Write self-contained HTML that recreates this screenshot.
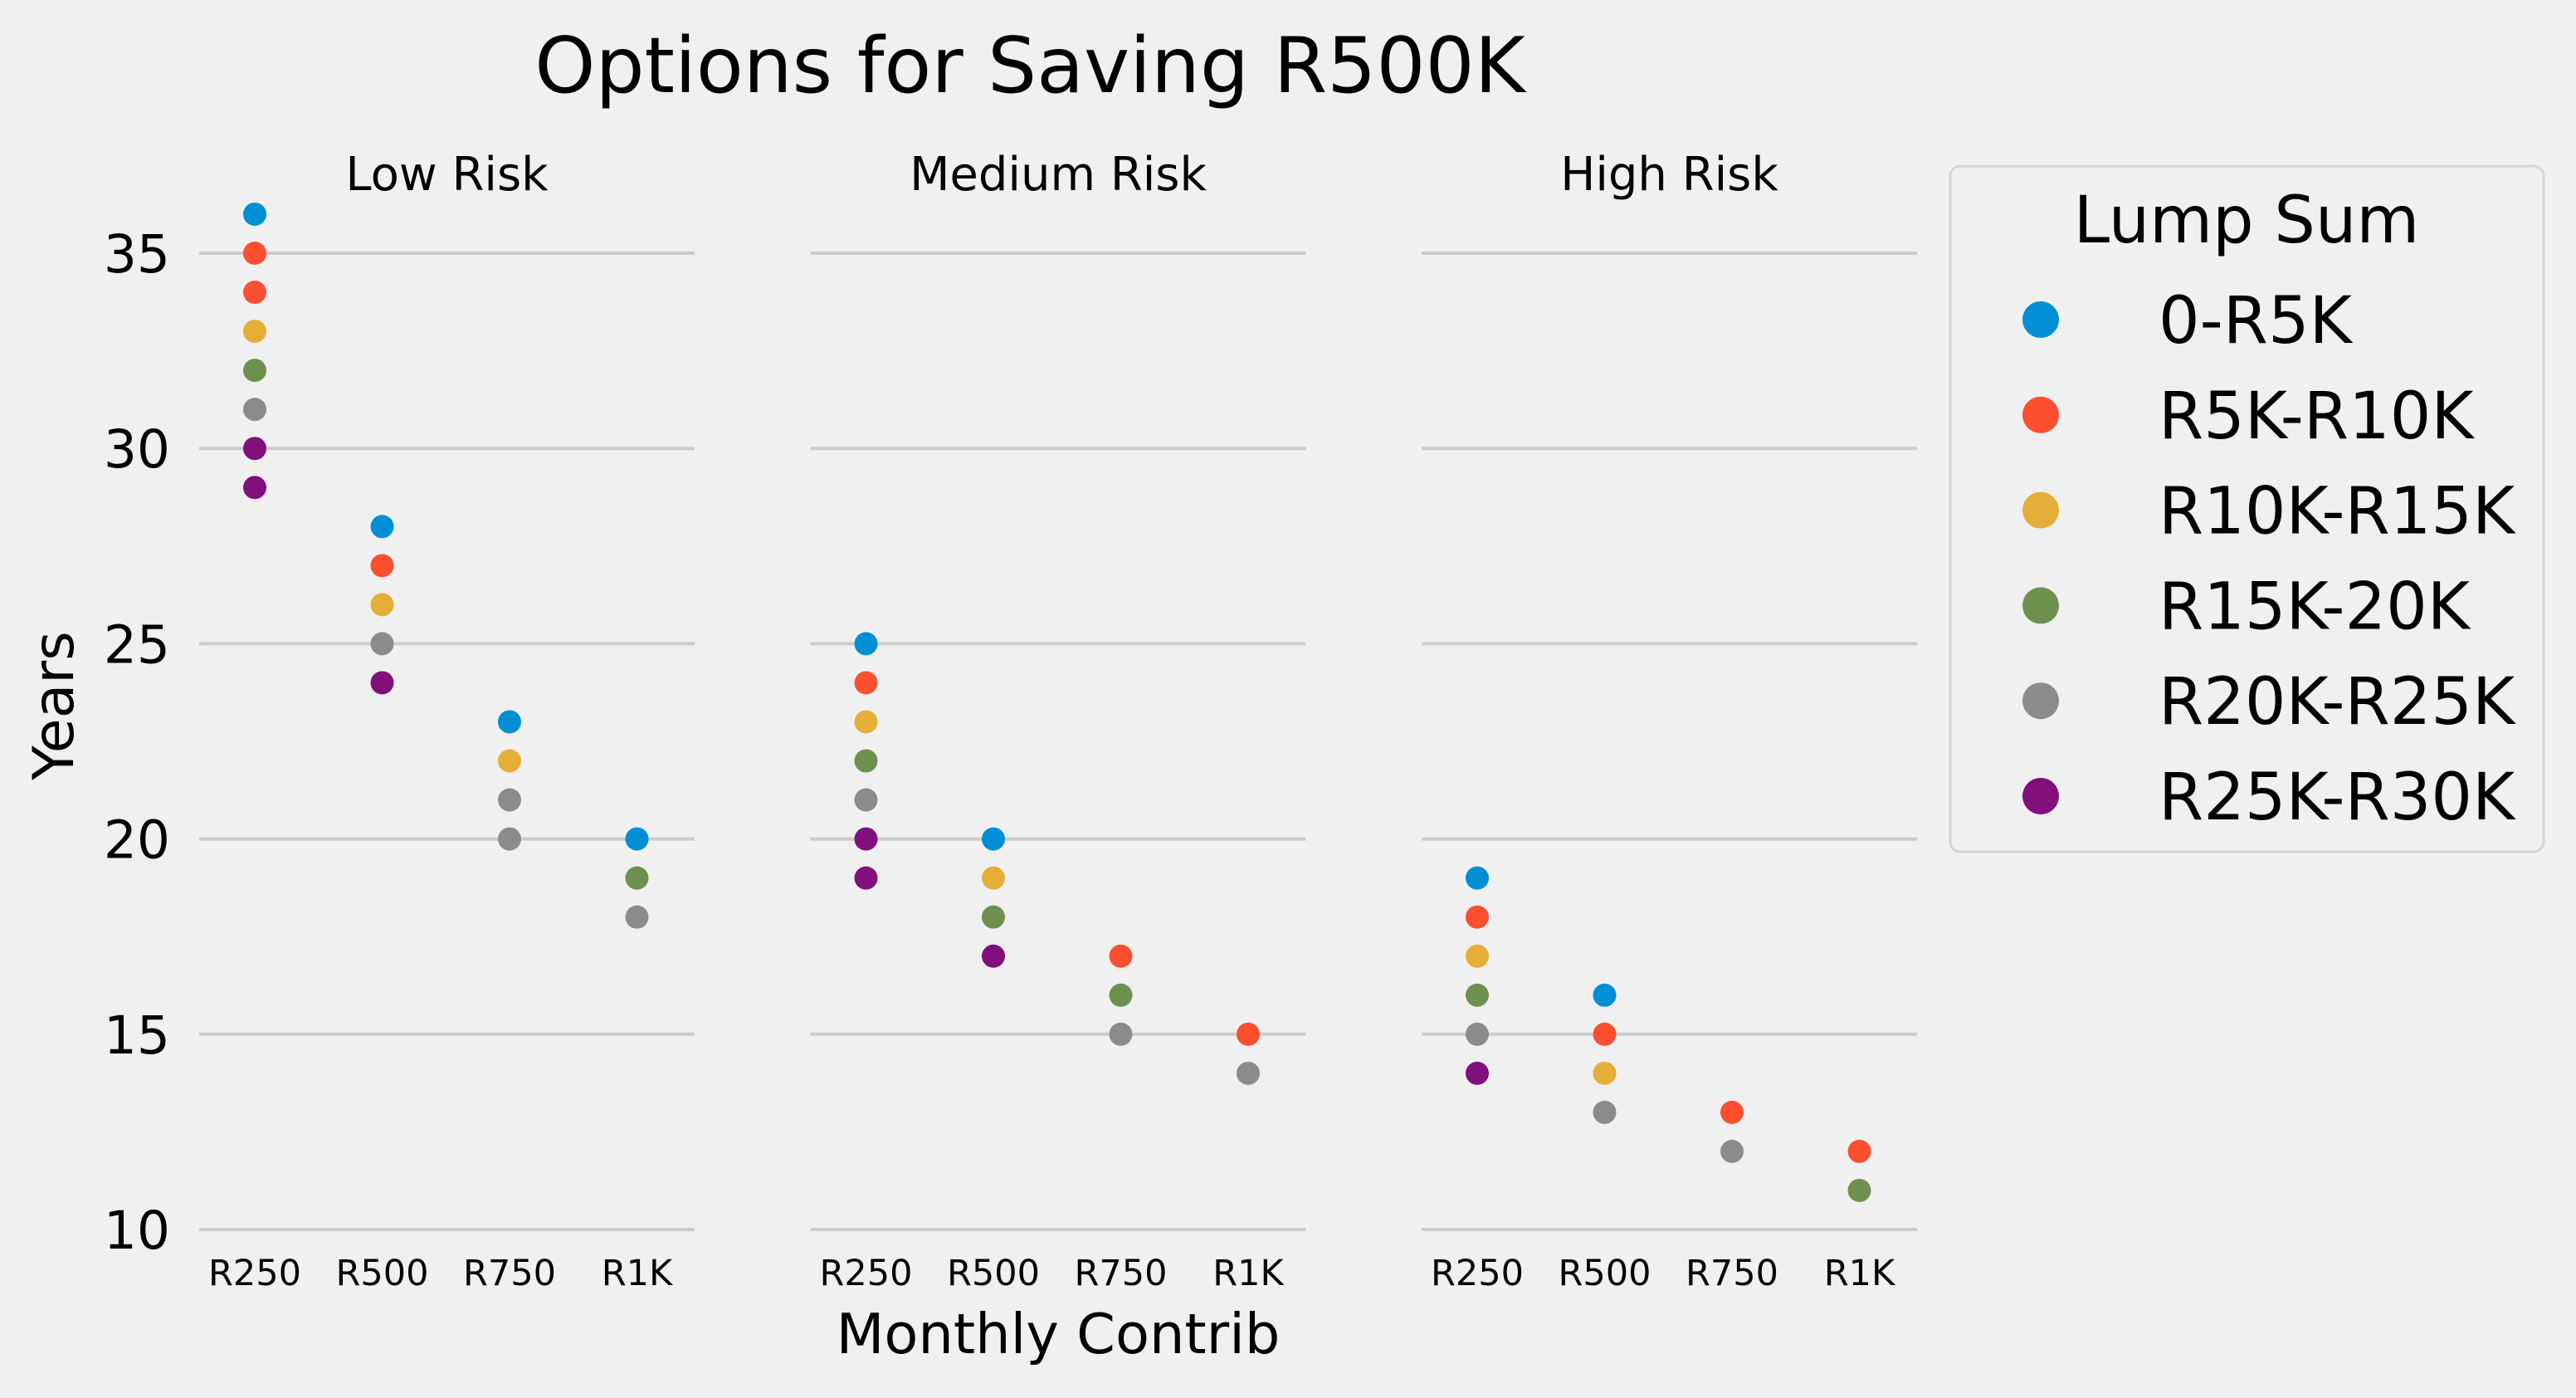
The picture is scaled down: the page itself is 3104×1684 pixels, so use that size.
<!DOCTYPE html>
<html><head><meta charset="utf-8">
<style>
html,body{margin:0;padding:0;background:#f0f0f0;}
svg{display:block;font-family:"DejaVu Sans","Liberation Sans",sans-serif;}
</style></head>
<body>
<svg id="chart" width="3104" height="1684" viewBox="0 0 3104 1684" xmlns="http://www.w3.org/2000/svg">
<rect width="3104" height="1684" fill="#f0f0f0"/>
<text x="1241" y="111" font-size="93" text-anchor="middle" fill="#000">Options for Saving R500K</text>
<text transform="translate(88,850) rotate(-90)" font-size="68" text-anchor="middle" fill="#000">Years</text>
<text x="1275" y="1630" font-size="67" text-anchor="middle" fill="#000">Monthly Contrib</text>
<g id="panels"></g>
<g id="legend"></g>
</svg>
<script>
const categories = ["R250","R500","R750","R1K"];
const groups = ["0-R5K","R5K-R10K","R10K-R15K","R15K-20K","R20K-R25K","R25K-R30K"];
const colors = ["#008fd5","#fc4f30","#e5ae38","#6d904f","#8b8b8b","#810f7c"];
const panelTitles = ["Low Risk","Medium Risk","High Risk"];
const yTicks = [10,15,20,25,30,35];
// per panel: category index, group index, years
const lowCat   = [0,0,0,0,0,0,0,0, 1,1,1,1,1, 2,2,2,2, 3,3,3];
const lowGroup = [0,1,1,2,3,4,5,5, 0,1,2,4,5, 0,2,4,4, 0,3,4];
const lowYears = [36,35,34,33,32,31,30,29, 28,27,26,25,24, 23,22,21,20, 20,19,18];
const medCat   = [0,0,0,0,0,0,0, 1,1,1,1, 2,2,2, 3,3];
const medGroup = [0,1,2,3,4,5,5, 0,2,3,5, 1,3,4, 1,4];
const medYears = [25,24,23,22,21,20,19, 20,19,18,17, 17,16,15, 15,14];
const highCat   = [0,0,0,0,0,0, 1,1,1,1, 2,2, 3,3];
const highGroup = [0,1,2,3,4,5, 0,1,2,4, 1,4, 1,3];
const highYears = [19,18,17,16,15,14, 16,15,14,13, 13,12, 12,11];

const NS = "http://www.w3.org/2000/svg";
const panelsData = [[lowCat,lowGroup,lowYears],[medCat,medGroup,medYears],[highCat,highGroup,highYears]];
const panelLeft = [240, 976.5, 1713];
const panelW = 597;
function yScale(v){ return 1481 - (v-10)*(1176/25); }
function xScale(p,c){ return panelLeft[p] + 67 + c*153.5; }
function mk(tag, attrs, parent){ const e=document.createElementNS(NS,tag); for(const k in attrs) e.setAttribute(k,attrs[k]); parent.appendChild(e); return e; }

const root = document.getElementById('panels');
panelsData.forEach((pd,p)=>{
  const g = mk('g',{},root);
  
  
  yTicks.forEach(t=>{
    const l = mk('line',{x1:panelLeft[p],x2:panelLeft[p]+panelW,y1:yScale(t),y2:yScale(t),stroke:'#cbcbcb','stroke-width':4},g);
    
    
    if(p===0){
      const tx = mk('text',{x:205,y:yScale(t)+23,'font-size':63,'text-anchor':'end',fill:'#000'},g);
      tx.textContent = t;
      
      
    }
  });
  categories.forEach((c,i)=>{
    const tx = mk('text',{x:xScale(p,i),y:1548,'font-size':43,'text-anchor':'middle',fill:'#000'},g);
    tx.textContent = c;
    
    
  });
  const tt = mk('text',{x:panelLeft[p]+panelW/2,y:229,'font-size':56,'text-anchor':'middle',fill:'#000'},g);
  tt.textContent = panelTitles[p];
  
  
  const [cats,grps,yrs] = pd;
  for(let k=0;k<yrs.length;k++){
    const d = mk('circle',{cx:xScale(p,cats[k]),cy:yScale(yrs[k]),r:14,fill:colors[grps[k]]},g);
    
    
  }
});

const lg = document.getElementById('legend');
const box = mk('rect',{x:2350,y:200,width:715,height:826,rx:12,fill:'#f0f0f0',stroke:'#d4d4d4','stroke-width':3},lg);


const lt = mk('text',{x:2707,y:292,'font-size':78,'text-anchor':'middle',fill:'#000'},lg);
lt.textContent = 'Lump Sum';


groups.forEach((gname,i)=>{
  const cy = 385 + i*114.8;
  const e = mk('g',{},lg);
  
  
  const c = mk('circle',{cx:2459,cy:cy,r:22,fill:colors[i]},e);
  
  
  const t = mk('text',{x:2601,y:cy+28,'font-size':78,fill:'#000'},e);
  t.textContent = gname;
  
  
});
</script>
</body></html>
